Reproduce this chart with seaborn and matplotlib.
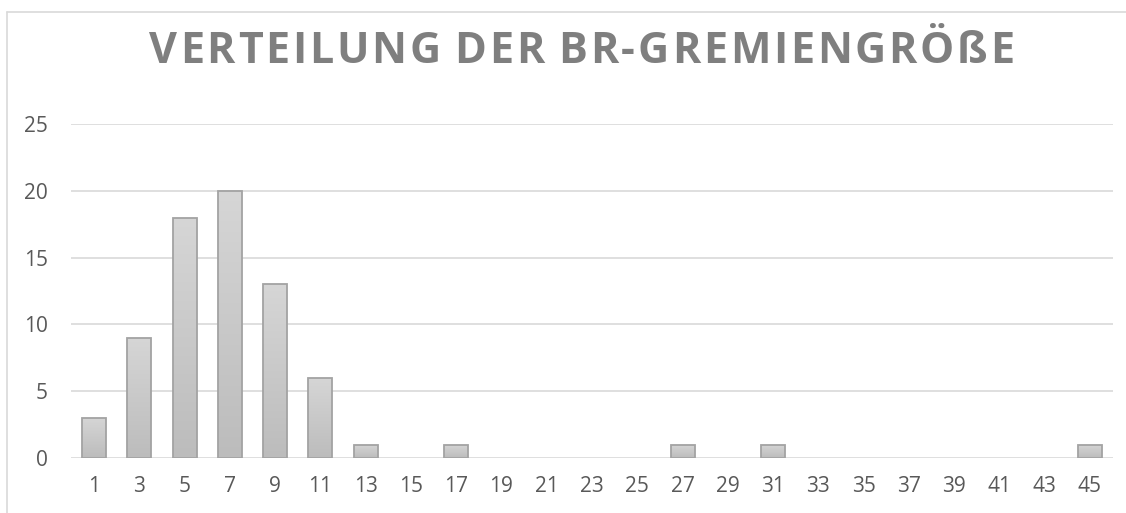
import numpy as np
import pandas as pd
import matplotlib
matplotlib.use('Agg')
import matplotlib.pyplot as plt
import seaborn as sns
from matplotlib.lines import Line2D

# chart data
groesse = ['1', '3', '5', '7', '9', '11', '13', '15', '17', '19', '21', '23',
           '25', '27', '29', '31', '33', '35', '37', '39', '41', '43', '45']
anzahl = [3, 9, 18, 20, 13, 6, 1, 0, 1, 0, 0, 0,
          0, 1, 0, 1, 0, 0, 0, 0, 0, 0, 1]
y_ticks = [0, 5, 10, 15, 20, 25]
titel = 'VERTEILUNG DER BR-GREMIENGRÖßE'

df = pd.DataFrame({'Groesse': groesse, 'Anzahl': anzahl})

sns.set_style('white')
plt.rcParams['font.family'] = ['Open Sans', 'DejaVu Sans']

fig = plt.figure(figsize=(11.26, 5.13), dpi=100)
ax = fig.add_axes([0.0634, 0.1072, 0.9247, 0.6511])

sns.barplot(x='Groesse', y='Anzahl', data=df, order=groesse, color='#c8c8c8',
            width=0.53, edgecolor='#a3a3a3', linewidth=1.3, ax=ax, zorder=3)

# gradient fill for the bars (light on top, darker at the bottom)
grad = np.linspace(0, 1, 256).reshape(-1, 1)
cmap = matplotlib.colors.LinearSegmentedColormap.from_list('g', ['#d6d6d6', '#bcbcbc'])
for p in ax.patches:
    x0, y0 = p.get_x(), p.get_y()
    w, h = p.get_width(), p.get_height()
    if h <= 0:
        p.set_visible(False)
        continue
    im = ax.imshow(grad, cmap=cmap, aspect='auto', extent=[x0, x0 + w, y0, y0 + h],
                   origin='upper', zorder=3, interpolation='bilinear')
    im.set_clip_path(p)
    p.set_facecolor('none')
    p.set_zorder(4)

ax.set_xlim(-0.5, len(groesse) - 0.5)
ax.set_ylim(0, 25)
ax.set_yticks(y_ticks)
ax.yaxis.grid(True, color='#d9d9d9', linewidth=1.2, zorder=0)
ax.set_axisbelow(True)
ax.set_xlabel('')
ax.set_ylabel('')
for s in ax.spines.values():
    s.set_visible(False)
ax.tick_params(axis='x', length=0, pad=13, labelsize=15, labelcolor='#595959')
ax.tick_params(axis='y', length=0, pad=17, labelsize=15, labelcolor='#595959')

# title with wide letter spacing, placed char by char
renderer = fig.canvas.get_renderer()
t_props = dict(fontsize=31, fontweight='bold', color='#7f7f7f', va='baseline', ha='left')
widths = []
for ch in titel:
    t = fig.text(0, 0, ch if ch != ' ' else 'I', **t_props)
    w = t.get_window_extent(renderer).width
    widths.append(w * 0.6 if ch == ' ' else w)
    t.remove()
left_px, right_px = 149, 1014
gap = (right_px - left_px - sum(widths)) / (len(titel) - 1)
x = left_px
for ch, w in zip(titel, widths):
    if ch != ' ':
        fig.text(x / 1126, 1 - 63 / 513, ch, **t_props)
    x += w + gap

# outer frame of the chart area
fig.add_artist(Line2D([7 / 1126, 1], [1 - 12 / 513] * 2, color='#d9d9d9', lw=1.2))
fig.add_artist(Line2D([7 / 1126] * 2, [0, 1 - 12 / 513], color='#d9d9d9', lw=1.2))

fig.savefig('out.png', dpi=100)
